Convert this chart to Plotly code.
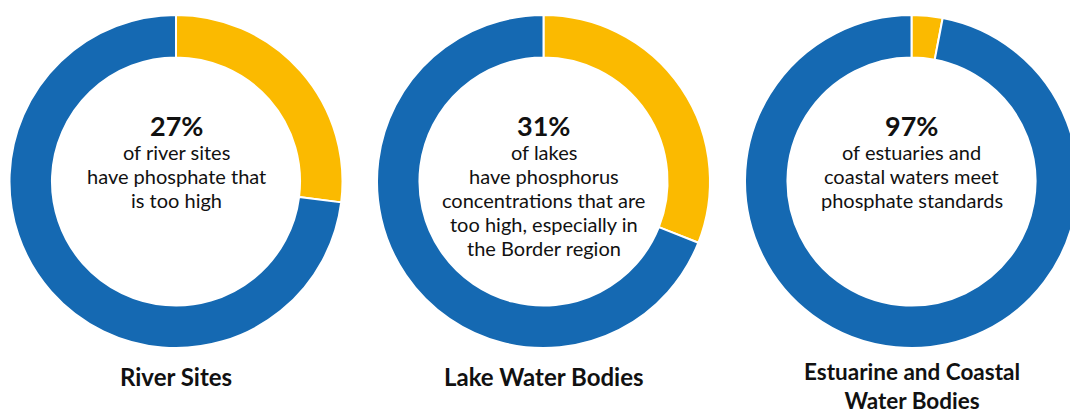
import plotly.graph_objects as go

# ---- data ----
categories = ["River Sites", "Lake Water Bodies", "Estuarine and Coastal<br>Water Bodies"]
slice_labels = [["Too high", "Other"], ["Too high", "Other"], ["Other", "Meet standards"]]
yellow_share = [27, 31, 3]
blue_share = [73, 69, 97]
headline = ["27%", "31%", "97%"]
body_lines = [
    ["of river sites", "have phosphate that", "is too high"],
    ["of lakes", "have phosphorus", "concentrations that are", "too high, especially in", "the Border region"],
    ["of estuaries and", "coastal waters meet", "phosphate standards"],
]

YELLOW = "#FBBA00"
BLUE = "#1569B2"
FONT = "Lato"
W, H = 1080, 412

centers_px = [176, 543.5, 911.5]
radius_px = 166.5
top_px, bot_px = 15, 348

fig = go.Figure()
for i in range(3):
    cx = centers_px[i]
    fig.add_trace(go.Pie(
        labels=slice_labels[i],
        values=[yellow_share[i], blue_share[i]],
        marker=dict(colors=[YELLOW, BLUE], line=dict(color="white", width=2)),
        hole=0.745,
        sort=False,
        direction="clockwise",
        rotation=0,
        textinfo="none",
        hoverinfo="label+value",
        showlegend=False,
        domain=dict(x=[(cx - radius_px) / W, (cx + radius_px) / W],
                    y=[1 - bot_px / H, 1 - top_px / H]),
    ))

annotations = []
for i in range(3):
    xc = centers_px[i] / W
    annotations.append(dict(
        x=xc, y=1 - 126 / H, xref="paper", yref="paper", showarrow=False,
        text="<b>%s</b>" % headline[i], font=dict(family=FONT, size=27, color="#111111"),
        xanchor="center", yanchor="middle"))
    for j, line in enumerate(body_lines[i]):
        annotations.append(dict(
            x=xc, y=1 - (152 + 24 * j) / H, xref="paper", yref="paper", showarrow=False,
            text=line, font=dict(family=FONT, size=20, color="#111111"),
            xanchor="center", yanchor="middle"))
    n_lines = categories[i].count("<br>") + 1
    title_size = 24 if n_lines == 1 else 22.5
    title_y = 376 if n_lines == 1 else 386
    annotations.append(dict(
        x=xc, y=1 - title_y / H, xref="paper", yref="paper", showarrow=False,
        text="<b>%s</b>" % categories[i].replace("<br>", "</b><br><b>"),
        font=dict(family=FONT, size=title_size, color="#111111"),
        xanchor="center", yanchor="middle", align="center"))

fig.update_layout(
    width=W, height=H,
    margin=dict(l=0, r=0, t=0, b=0),
    paper_bgcolor="white", plot_bgcolor="white",
    annotations=annotations,
)

fig.write_html("out.html", config={"displayModeBar": False},
               post_script="document.body.style.margin='0';document.body.style.overflow='hidden';")
